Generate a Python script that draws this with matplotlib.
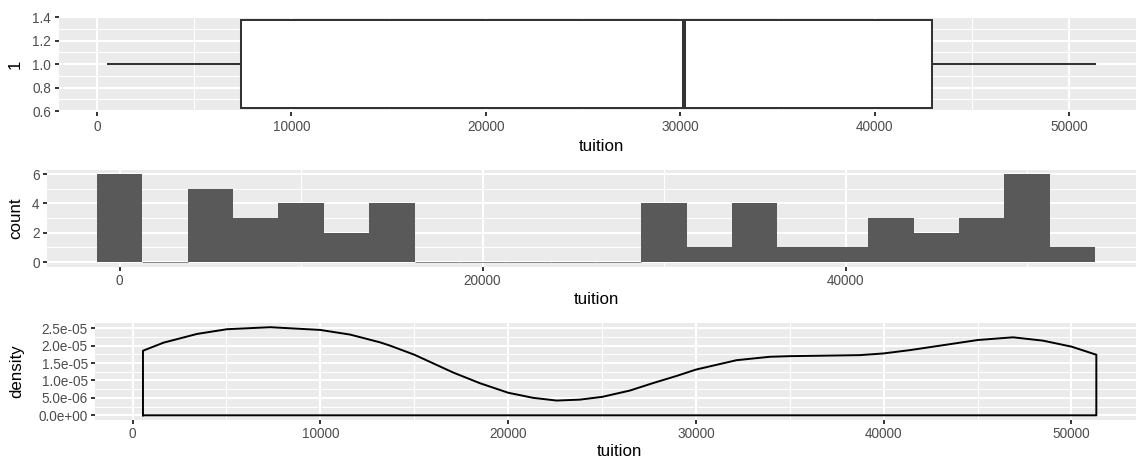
import matplotlib
matplotlib.use("Agg")
import matplotlib.pyplot as plt
import numpy as np
from matplotlib.ticker import FixedLocator, FixedFormatter

plt.rcParams['font.family'] = ['Liberation Sans', 'DejaVu Sans']

# ---------------- data ----------------
# boxplot summary of tuition
box_whislo = 570
box_q1 = 7420
box_median = 30180
box_q3 = 42950
box_whishi = 51300

# histogram (binwidth 2500, first bin centred on 0)
hist_bin_width = 2500
hist_first_center = 0
hist_counts = [6, 0, 5, 3, 4, 2, 4, 0, 0, 0, 0, 0, 4, 1, 4, 1, 1, 3, 2, 3, 6, 1]

# density curve
dens_x = [552, 1652, 3426, 5022, 7328, 9989, 11586, 13182, 13710, 15010, 17085,
          18504, 20012, 21342, 22585, 23826, 25015, 26482, 27729, 28972, 30000,
          32164, 33938, 35002, 38728, 39988, 41386, 42631, 45008, 46888, 48485,
          50011, 51324]
dens_y = [1.854e-05, 2.086e-05, 2.335e-05, 2.471e-05, 2.529e-05, 2.451e-05,
          2.317e-05, 2.094e-05, 2.00e-05, 1.738e-05, 1.225e-05, 9.2e-06,
          6.46e-06, 5.0e-06, 4.23e-06, 4.5e-06, 5.3e-06, 7.1e-06, 9.27e-06,
          1.13e-05, 1.312e-05, 1.582e-05, 1.68e-05, 1.698e-05, 1.727e-05,
          1.776e-05, 1.87e-05, 1.97e-05, 2.161e-05, 2.239e-05, 2.143e-05,
          1.97e-05, 1.738e-05]

box_xticks = [0, 10000, 20000, 30000, 40000, 50000]
box_yticks = [0.6, 0.8, 1.0, 1.2, 1.4]
hist_xticks = [0, 20000, 40000]
hist_yticks = [0, 2, 4, 6]
dens_xticks = [0, 10000, 20000, 30000, 40000, 50000]
dens_yticks = [0, 5e-06, 1e-05, 1.5e-05, 2e-05, 2.5e-05]
dens_ylabels = ['0.0e+00', '5.0e-06', '1.0e-05', '1.5e-05', '2.0e-05', '2.5e-05']

# ---------------- figure ----------------
W, H = 1136, 463
fig = plt.figure(figsize=(W / 100, H / 100), dpi=100)
fig.patch.set_facecolor('white')


def add_axes(l, t, r, b):
    return fig.add_axes([l / W, 1 - b / H, (r - l) / W, (b - t) / H])


def fpx(x, y):
    return x / W, 1 - y / H


def mids(v):
    return [(a + b) / 2 for a, b in zip(v[:-1], v[1:])]


def style(ax, xmaj, ymaj, xlim, ylim, ylabels=None):
    ax.set_facecolor('#EBEBEB')
    for s in ax.spines.values():
        s.set_visible(False)
    ax.set_xlim(*xlim)
    ax.set_ylim(*ylim)
    step_x = xmaj[1] - xmaj[0]
    step_y = ymaj[1] - ymaj[0]
    xmin = [m for m in mids([xmaj[0] - step_x] + list(xmaj) + [xmaj[-1] + step_x])
            if xlim[0] < m < xlim[1]]
    ymin = [m for m in mids([ymaj[0] - step_y] + list(ymaj) + [ymaj[-1] + step_y])
            if ylim[0] < m < ylim[1]]
    ax.xaxis.set_major_locator(FixedLocator(xmaj))
    ax.xaxis.set_minor_locator(FixedLocator(xmin))
    ax.yaxis.set_major_locator(FixedLocator(ymaj))
    ax.yaxis.set_minor_locator(FixedLocator(ymin))
    ax.xaxis.set_major_formatter(FixedFormatter([str(v) for v in xmaj]))
    if ylabels is not None:
        ax.yaxis.set_major_formatter(FixedFormatter(ylabels))
    ax.set_axisbelow(True)
    ax.grid(which='major', color='white', lw=1.45)
    ax.grid(which='minor', color='white', lw=0.72)
    ax.tick_params(which='major', length=2.9, width=1.4, color='#333333',
                   labelcolor='#4D4D4D', labelsize=9.8, pad=2.4)
    ax.tick_params(which='minor', length=0)


def expand(lo, hi, f=0.05):
    p = (hi - lo) * f
    return lo - p, hi + p


# ---------- panel 1: boxplot ----------
ax1 = add_axes(58.6, 15.8, 1144.0, 112.5)
stats = [dict(whislo=box_whislo, q1=box_q1, med=box_median, q3=box_q3,
              whishi=box_whishi, fliers=[])]
ax1.bxp(stats, positions=[1], widths=0.75, orientation='horizontal',
        showcaps=False, showfliers=False, patch_artist=True,
        boxprops=dict(facecolor='white', edgecolor='#333333', linewidth=1.45),
        whiskerprops=dict(color='#333333', linewidth=1.45),
        medianprops=dict(color='#333333', linewidth=2.9, solid_capstyle='butt'),
        manage_ticks=False)
style(ax1, box_xticks, box_yticks, expand(box_whislo, box_whishi),
      expand(1 - 0.375, 1 + 0.375), ylabels=['%.1f' % v for v in box_yticks])
ax1.set_xlabel('tuition', fontsize=12.2, color='black', va='center')
ax1.xaxis.set_label_coords(*fpx(601.3, 146.7), transform=fig.transFigure)
ax1.set_ylabel('1', fontsize=12.2, color='black', va='center')
ax1.yaxis.set_label_coords(*fpx(15.5, 64.2), transform=fig.transFigure)

# ---------- panel 2: histogram ----------
ax2 = add_axes(47.1, 169.6, 1144.9, 266.5)
n = len(hist_counts)
edges = hist_first_center - hist_bin_width / 2 + hist_bin_width * np.arange(n + 1)
bar_lw = [0.5 if c == 0 else 0 for c in hist_counts]
ax2.bar(edges[:-1], hist_counts, width=hist_bin_width, align='edge',
        color='#595959', edgecolor='#595959', linewidth=bar_lw)
style(ax2, hist_xticks, hist_yticks, expand(edges[0], edges[-1]),
      expand(0, max(hist_counts)))
ax2.set_xlabel('tuition', fontsize=12.2, color='black', va='center')
ax2.xaxis.set_label_coords(*fpx(596.0, 299.5), transform=fig.transFigure)
ax2.set_ylabel('count', fontsize=12.2, color='black', va='center')
ax2.yaxis.set_label_coords(*fpx(15.5, 218.0), transform=fig.transFigure)

# ---------- panel 3: density ----------
ax3 = add_axes(95.3, 322.8, 1144.0, 419.7)
px = [dens_x[0]] + dens_x + [dens_x[-1], dens_x[0]]
py = [0] + dens_y + [0, 0]
ax3.plot(px, py, color='black', lw=1.4, solid_joinstyle='round')
style(ax3, dens_xticks, dens_yticks, expand(dens_x[0], dens_x[-1]),
      expand(0, max(dens_y)), ylabels=dens_ylabels)
ax3.set_xlabel('tuition', fontsize=12.2, color='black', va='center')
ax3.xaxis.set_label_coords(*fpx(619.7, 452.0), transform=fig.transFigure)
ax3.set_ylabel('density', fontsize=12.2, color='black', va='center')
ax3.yaxis.set_label_coords(*fpx(16.5, 371.3), transform=fig.transFigure)

fig.savefig('out.png', dpi=100, facecolor='white')
